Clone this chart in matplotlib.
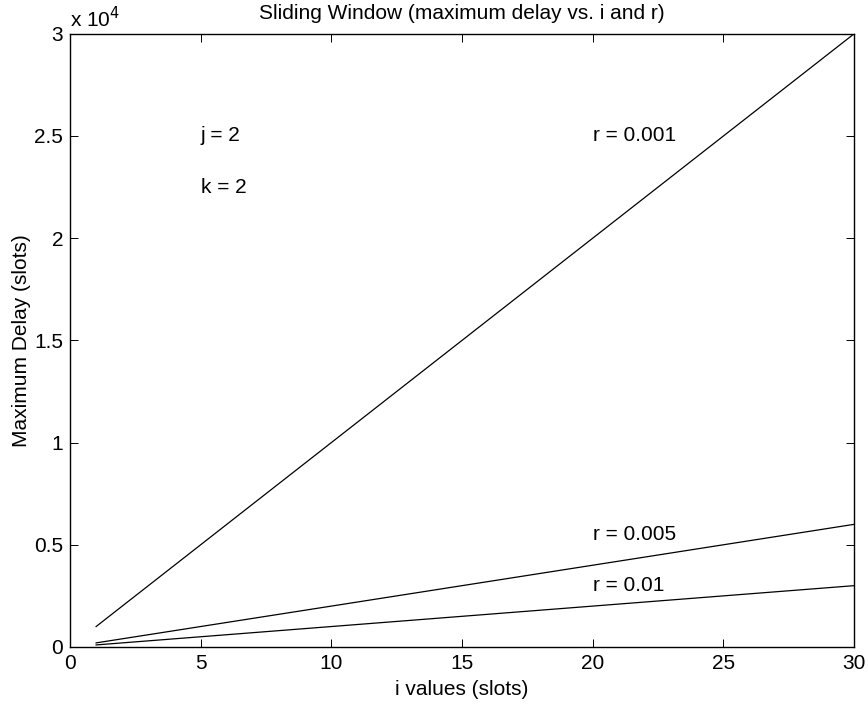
import matplotlib.pyplot as plt
from matplotlib.ticker import FuncFormatter

# i values (slots) at the ends of each straight line
i_vals = [1, 30]
# maximum delay (slots) for each r
delay_r001 = [1000, 30000]   # r = 0.001
delay_r005 = [200, 6000]     # r = 0.005
delay_r01 = [100, 3000]      # r = 0.01

x_ticks = [0, 5, 10, 15, 20, 25, 30]
y_ticks = [0, 5000, 10000, 15000, 20000, 25000, 30000]

plt.rcParams['font.family'] = ['Liberation Sans', 'DejaVu Sans']
plt.rcParams['font.size'] = 15

fig = plt.figure(figsize=(8.68, 7.04), dpi=100)
ax = fig.add_axes([0.0806, 0.081, 0.9034, 0.871])

ax.plot(i_vals, delay_r001, color="black", linewidth=0.9)
ax.plot(i_vals, delay_r005, color="black", linewidth=0.9)
ax.plot(i_vals, delay_r01, color="black", linewidth=0.9)

ax.set_xlim(0, 30)
ax.set_ylim(0, 30000)
ax.set_xticks(x_ticks)
ax.set_yticks(y_ticks)
ax.yaxis.set_major_formatter(FuncFormatter(lambda v, p: f"{v / 1e4:g}"))
ax.tick_params(direction="in", length=6, width=0.7, top=True, right=True, pad=5)
for s in ax.spines.values():
    s.set_linewidth(1.0)

# annotations
ax.text(5, 25000, "j = 2", va="center", ha="left")
ax.text(5, 22500, "k = 2", va="center", ha="left")
ax.text(20, 25000, "r = 0.001", va="center", ha="left")
ax.text(20, 5500, "r = 0.005", va="center", ha="left")
ax.text(20, 3000, "r = 0.01", va="center", ha="left")

ax.text(0, 1.005, r"x 10$^{4}$", transform=ax.transAxes, ha="left", va="bottom")

ax.set_title("Sliding Window (maximum delay vs. i and r)", fontsize=15, pad=11)
ax.set_xlabel("i values (slots)", labelpad=5)
ax.set_ylabel("Maximum Delay (slots)", labelpad=2)

fig.savefig("out.png", dpi=100)
